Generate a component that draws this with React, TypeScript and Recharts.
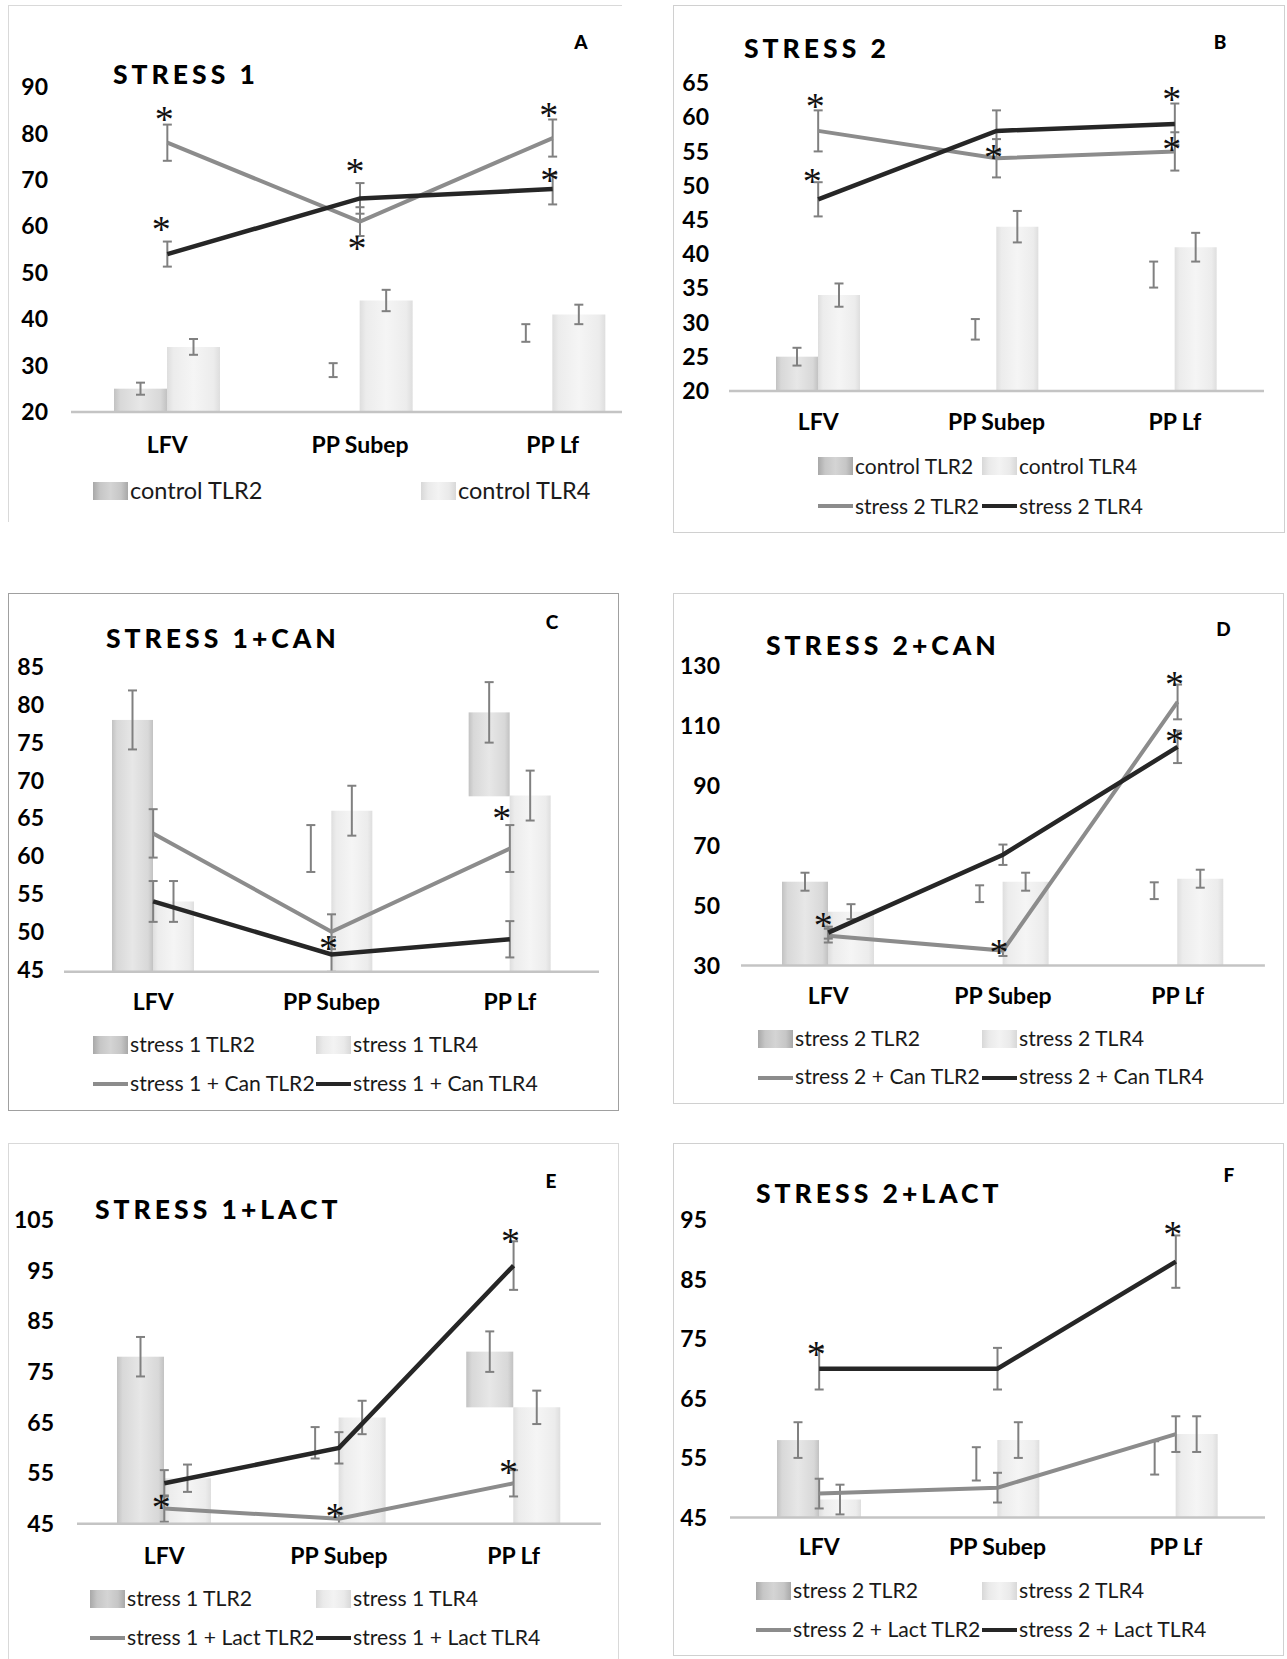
import React from 'react';
import { ComposedChart, Bar, Line, XAxis, YAxis, ErrorBar, ReferenceDot } from 'recharts';

const categories = ['LFV', 'PP Subep', 'PP Lf'];

// group means and error (+/-)
const controlTLR2 = [25, 29, 37];
const controlTLR2Err = [1.3, 1.5, 1.9];
const controlTLR4 = [34, 44, 41];
const controlTLR4Err = [1.7, 2.3, 2.1];

const stress1TLR2 = [78, 61, 79];
const stress1TLR2Err = [3.9, 3.1, 4.0];
const stress1TLR4 = [54, 66, 68];
const stress1TLR4Err = [2.7, 3.3, 3.3];

const stress2TLR2 = [58, 54, 55];
const stress2TLR2Err = [3.0, 2.8, 2.8];
const stress2TLR4 = [48, 58, 59];
const stress2TLR4Err = [2.5, 3.0, 3.0];

const stress1CanTLR2 = [63, 50, 61];
const stress1CanTLR2Err = [3.2, 2.3, 3.1];
const stress1CanTLR4 = [54, 47, 49];
const stress1CanTLR4Err = [2.7, 2.3, 2.4];

const stress2CanTLR2 = [40, 35, 118];
const stress2CanTLR2Err = [2.3, 1.8, 5.8];
const stress2CanTLR4 = [41, 67, 103];
const stress2CanTLR4Err = [2.0, 3.4, 5.4];

const stress1LactTLR2 = [48, 46, 53];
const stress1LactTLR2Err = [2.6, 1.0, 2.6];
const stress1LactTLR4 = [53, 60, 96];
const stress1LactTLR4Err = [2.6, 3.1, 4.8];

const stress2LactTLR2 = [49, 50, 59];
const stress2LactTLR2Err = [2.5, 2.5, 3.0];
const stress2LactTLR4 = [70, 70, 88];
const stress2LactTLR4Err = [3.5, 3.5, 4.4];

const ticksA = [20, 30, 40, 50, 60, 70, 80, 90];
const ticksB = [20, 25, 30, 35, 40, 45, 50, 55, 60, 65];
const ticksC = [45, 50, 55, 60, 65, 70, 75, 80, 85];
const ticksD = [30, 50, 70, 90, 110, 130];
const ticksE = [45, 55, 65, 75, 85, 95, 105];
const ticksF = [45, 55, 65, 75, 85, 95];

type Star = { cat: string; y: number; dx?: number };

// significance asterisks
const starsA: Star[] = [
  { cat: 'LFV', y: 84.5 }, { cat: 'LFV', y: 60.8, dx: -6 },
  { cat: 'PP Subep', y: 73.2, dx: -5 }, { cat: 'PP Subep', y: 56.6 },
  { cat: 'PP Lf', y: 85.3, dx: -4 }, { cat: 'PP Lf', y: 71.2 },
];
const starsB: Star[] = [
  { cat: 'LFV', y: 62.5 }, { cat: 'LFV', y: 51.6, dx: -6 },
  { cat: 'PP Subep', y: 55.0 },
  { cat: 'PP Lf', y: 63.5 }, { cat: 'PP Lf', y: 56.3 },
];
const starsC: Star[] = [{ cat: 'PP Subep', y: 48.7 }, { cat: 'PP Lf', y: 65.8, dx: -8 }];
const starsD: Star[] = [
  { cat: 'LFV', y: 45.5, dx: -5 }, { cat: 'PP Subep', y: 36.4, dx: -4 },
  { cat: 'PP Lf', y: 126 }, { cat: 'PP Lf', y: 107.1 },
];
const starsE: Star[] = [
  { cat: 'LFV', y: 49.5 }, { cat: 'PP Subep', y: 47.8, dx: -4 },
  { cat: 'PP Lf', y: 56.5, dx: -5 }, { cat: 'PP Lf', y: 102 },
];
const starsF: Star[] = [{ cat: 'LFV', y: 73.4 }, { cat: 'PP Lf', y: 93.6 }];

// how the first bar series shows up in each panel (some are blank in the source)
type Look = 'full' | 'none' | 'part';

interface PanelCfg {
  title: string;
  letter: string;
  bar2: number[]; bar2Err: number[];
  bar4: number[]; bar4Err: number[];
  line2: number[]; line2Err: number[];
  line4: number[]; line4Err: number[];
  names: string[];
  lineLegend: boolean;
  domain: [number, number];
  ticks: number[];
  stars: Star[];
  bar2Look: Look[];
  box: { x: number; y: number; w: number; h: number; border: string; sides: string };
  plot: { left: number; right: number; top: number; bottom: number };
  tickGap: number;
  xLabelY: number;
  barSize: number;
  titleAt: [number, number];
  letterAt: [number, number];
  legend: { x1: number; x2: number; y1: number; y2: number; fs: number };
}

const FONT = 'Lato, "Open Sans", sans-serif';
const GREY_LINE = '#8c8c8c';
const DARK_LINE = '#262626';
const ERR = '#808080';
const TICK_FS = 23;
const TITLE_FS = 26.5;

const panels: PanelCfg[] = [
  {
    title: 'STRESS 1', letter: 'A',
    bar2: controlTLR2, bar2Err: controlTLR2Err, bar4: controlTLR4, bar4Err: controlTLR4Err,
    line2: stress1TLR2, line2Err: stress1TLR2Err, line4: stress1TLR4, line4Err: stress1TLR4Err,
    names: ['control TLR2', 'control TLR4', 'stress 1 TLR2', 'stress 1 TLR4'],
    lineLegend: false,
    domain: [20, 90], ticks: ticksA, stars: starsA,
    bar2Look: ['full', 'none', 'none'],
    box: { x: 8, y: 5, w: 614, h: 517, border: '#d9d9d9', sides: 'tl' },
    plot: { left: 71, right: 649, top: 86.8, bottom: 411.7 },
    tickGap: 23, xLabelY: 444.5, barSize: 53,
    titleAt: [113, 75], letterAt: [581, 42],
    legend: { x1: 93, x2: 421, y1: 491, y2: 0, fs: 23.5 },
  },
  {
    title: 'STRESS 2', letter: 'B',
    bar2: controlTLR2, bar2Err: controlTLR2Err, bar4: controlTLR4, bar4Err: controlTLR4Err,
    line2: stress2TLR2, line2Err: stress2TLR2Err, line4: stress2TLR4, line4Err: stress2TLR4Err,
    names: ['control TLR2', 'control TLR4', 'stress 2 TLR2', 'stress 2 TLR4'],
    lineLegend: true,
    domain: [20, 65], ticks: ticksB, stars: starsB,
    bar2Look: ['full', 'none', 'none'],
    box: { x: 673, y: 5, w: 612, h: 528, border: '#d0d0d0', sides: 'tlrb' },
    plot: { left: 729, right: 1264, top: 82.6, bottom: 390.5 },
    tickGap: 20, xLabelY: 421.2, barSize: 42,
    titleAt: [744, 48.7], letterAt: [1220, 42],
    legend: { x1: 818, x2: 982, y1: 465.7, y2: 506, fs: 21 },
  },
  {
    title: 'STRESS 1+CAN', letter: 'C',
    bar2: stress1TLR2, bar2Err: stress1TLR2Err, bar4: stress1TLR4, bar4Err: stress1TLR4Err,
    line2: stress1CanTLR2, line2Err: stress1CanTLR2Err, line4: stress1CanTLR4, line4Err: stress1CanTLR4Err,
    names: ['stress 1 TLR2', 'stress 1 TLR4', 'stress 1 + Can TLR2', 'stress 1 + Can TLR4'],
    lineLegend: true,
    domain: [45, 85], ticks: ticksC, stars: starsC,
    bar2Look: ['full', 'none', 'part'],
    box: { x: 8, y: 593, w: 611, h: 518, border: '#a0a0a0', sides: 'tlrb' },
    plot: { left: 64.3, right: 599.3, top: 666.8, bottom: 971.6 },
    tickGap: 20, xLabelY: 1001.3, barSize: 41,
    titleAt: [106, 639], letterAt: [552, 622],
    legend: { x1: 93, x2: 316, y1: 1045, y2: 1084, fs: 21.2 },
  },
  {
    title: 'STRESS 2+CAN', letter: 'D',
    bar2: stress2TLR2, bar2Err: stress2TLR2Err, bar4: stress2TLR4, bar4Err: stress2TLR4Err,
    line2: stress2CanTLR2, line2Err: stress2CanTLR2Err, line4: stress2CanTLR4, line4Err: stress2CanTLR4Err,
    names: ['stress 2 TLR2', 'stress 2 TLR4', 'stress 2 + Can TLR2', 'stress 2 + Can TLR4'],
    lineLegend: true,
    domain: [30, 130], ticks: ticksD, stars: starsD,
    bar2Look: ['full', 'none', 'none'],
    box: { x: 673, y: 593, w: 611, h: 511, border: '#d0d0d0', sides: 'tlrb' },
    plot: { left: 741.4, right: 1265.3, top: 665.7, bottom: 965.3 },
    tickGap: 21, xLabelY: 995, barSize: 46,
    titleAt: [766, 645.6], letterAt: [1223.5, 628.7],
    legend: { x1: 758, x2: 982, y1: 1039, y2: 1077.5, fs: 21.2 },
  },
  {
    title: 'STRESS 1+LACT', letter: 'E',
    bar2: stress1TLR2, bar2Err: stress1TLR2Err, bar4: stress1TLR4, bar4Err: stress1TLR4Err,
    line2: stress1LactTLR2, line2Err: stress1LactTLR2Err, line4: stress1LactTLR4, line4Err: stress1LactTLR4Err,
    names: ['stress 1 TLR2', 'stress 1 TLR4', 'stress 1 + Lact TLR2', 'stress 1 + Lact TLR4'],
    lineLegend: true,
    domain: [45, 105], ticks: ticksE, stars: starsE,
    bar2Look: ['full', 'none', 'part'],
    box: { x: 8, y: 1143, w: 611, h: 516, border: '#d9d9d9', sides: 'tlr' },
    plot: { left: 76.7, right: 600.6, top: 1220.3, bottom: 1524.1 },
    tickGap: 23, xLabelY: 1555.8, barSize: 47,
    titleAt: [95, 1209.8], letterAt: [551, 1181],
    legend: { x1: 90, x2: 316, y1: 1599, y2: 1638, fs: 21.2 },
  },
  {
    title: 'STRESS 2+LACT', letter: 'F',
    bar2: stress2TLR2, bar2Err: stress2TLR2Err, bar4: stress2TLR4, bar4Err: stress2TLR4Err,
    line2: stress2LactTLR2, line2Err: stress2LactTLR2Err, line4: stress2LactTLR4, line4Err: stress2LactTLR4Err,
    names: ['stress 2 TLR2', 'stress 2 TLR4', 'stress 2 + Lact TLR2', 'stress 2 + Lact TLR4'],
    lineLegend: true,
    domain: [45, 95], ticks: ticksF, stars: starsF,
    bar2Look: ['full', 'none', 'none'],
    box: { x: 673, y: 1143, w: 611, h: 513, border: '#d0d0d0', sides: 'tlrb' },
    plot: { left: 730, right: 1265, top: 1220.3, bottom: 1517.7 },
    tickGap: 23, xLabelY: 1547.4, barSize: 42,
    titleAt: [756, 1194], letterAt: [1229, 1175],
    legend: { x1: 756, x2: 982, y1: 1591, y2: 1630, fs: 21.2 },
  },
];

const TLR2_CSS = 'linear-gradient(90deg,#a8a8a8,#c6c6c6 20%,#d4d4d4 50%,#c6c6c6 80%,#a8a8a8)';
const TLR4_CSS = 'linear-gradient(90deg,#d8d8d8,#eaeaea 20%,#f3f3f3 50%,#eaeaea 80%,#d8d8d8)';

function Gradients() {
  return (
    <svg width={0} height={0} style={{ position: 'absolute' }}>
      <defs>
        <linearGradient id="tlr2Fill" x1="0" y1="0" x2="1" y2="0">
          <stop offset="0" stopColor="#c2c2c2" />
          <stop offset="0.12" stopColor="#d8d8d8" />
          <stop offset="0.5" stopColor="#e7e7e7" />
          <stop offset="0.88" stopColor="#d8d8d8" />
          <stop offset="1" stopColor="#c2c2c2" />
        </linearGradient>
        <linearGradient id="tlr4Fill" x1="0" y1="0" x2="1" y2="0">
          <stop offset="0" stopColor="#dedede" />
          <stop offset="0.12" stopColor="#ececec" />
          <stop offset="0.5" stopColor="#f5f5f5" />
          <stop offset="0.88" stopColor="#ececec" />
          <stop offset="1" stopColor="#dedede" />
        </linearGradient>
      </defs>
    </svg>
  );
}

function StarMark({ cx, cy, dx }: { cx: number; cy: number; dx?: number }) {
  const fs = 38;
  return (
    <text
      x={cx + (dx ?? -3)}
      y={cy + fs * 0.5}
      textAnchor="middle"
      fontSize={fs}
      fontFamily='"Liberation Serif", serif'
      fill="#111"
    >
      *
    </text>
  );
}

function LegendItem({ x, y, kind, label, fs }: { x: number; y: number; kind: string; label: string; fs: number }) {
  const swatch =
    kind === 'bar2' || kind === 'bar4' ? (
      <div
        style={{
          position: 'absolute', left: 0, top: -9, width: 35, height: 18,
          background: kind === 'bar2' ? TLR2_CSS : TLR4_CSS,
        }}
      />
    ) : (
      <div
        style={{
          position: 'absolute', left: 0, top: -2, width: 35, height: 4,
          background: kind === 'line2' ? GREY_LINE : DARK_LINE,
        }}
      />
    );
  return (
    <div style={{ position: 'absolute', left: x, top: y }}>
      {swatch}
      <div
        style={{
          position: 'absolute', left: 37, top: -fs * 0.53, fontSize: fs,
          lineHeight: `${fs}px`, fontFamily: FONT, color: '#1a1a1a', whiteSpace: 'nowrap',
        }}
      >
        {label}
      </div>
    </div>
  );
}

function Panel({ cfg }: { cfg: PanelCfg }) {
  const { box, plot, legend } = cfg;
  const data = categories.map((cat, i) => ({
    cat,
    b2: cfg.bar2[i], b2e: cfg.bar2Err[i],
    b4: cfg.bar4[i], b4e: cfg.bar4Err[i],
    l2: cfg.line2[i], l2e: cfg.line2Err[i],
    l4: cfg.line4[i], l4e: cfg.line4Err[i],
  }));
  const yw = 80;
  const mTop = 30;
  const xh = 60;
  const chartLeft = plot.left - yw;
  const chartTop = plot.top - mTop;
  const width = plot.right + 10 - chartLeft;
  const height = plot.bottom + xh - chartTop;
  const b = `1px solid ${box.border}`;
  const tickStyle = { fontSize: TICK_FS, fontWeight: 700, fill: '#000', fontFamily: FONT };

  // first bar series: blank, full, or only the part that sits above the neighbouring bar
  const bar2Shape = (p: any) => {
    const i = categories.indexOf(p.payload.cat);
    const k = cfg.bar2Look[i];
    if (k === 'none' || !p.height) return <g />;
    let h = p.height;
    if (k === 'part') {
      const v2 = cfg.bar2[i];
      const v4 = cfg.bar4[i];
      h = (p.height * (v2 - v4)) / (v2 - cfg.domain[0]);
    }
    return <rect x={p.x} y={p.y} width={p.width} height={h} fill="url(#tlr2Fill)" />;
  };

  return (
    <div
      style={{
        position: 'absolute', left: box.x, top: box.y, width: box.w, height: box.h,
        boxSizing: 'border-box', overflow: 'hidden',
        borderTop: box.sides.includes('t') ? b : 'none',
        borderLeft: box.sides.includes('l') ? b : 'none',
        borderRight: box.sides.includes('r') ? b : 'none',
        borderBottom: box.sides.includes('b') ? b : 'none',
      }}
    >
      <div style={{ position: 'absolute', left: chartLeft - box.x - 1, top: chartTop - box.y - 1 }}>
        <ComposedChart
          width={width}
          height={height}
          data={data}
          margin={{ top: mTop, right: 10, left: 0, bottom: 0 }}
          barGap={0}
        >
          <XAxis
            dataKey="cat"
            height={xh}
            interval={0}
            tickLine={false}
            tickSize={0}
            tickMargin={cfg.xLabelY - plot.bottom - 8}
            axisLine={{ stroke: '#c4c4c4', strokeWidth: 2.5 }}
            tick={tickStyle}
          />
          <YAxis
            type="number"
            domain={cfg.domain}
            ticks={cfg.ticks}
            interval={0}
            width={yw}
            axisLine={false}
            tickLine={false}
            tickSize={0}
            tickMargin={cfg.tickGap}
            tick={tickStyle}
          />
          <Bar dataKey="b2" name={cfg.names[0]} barSize={cfg.barSize} shape={bar2Shape} isAnimationActive={false}>
            <ErrorBar dataKey="b2e" direction="y" width={4.5} stroke={ERR} strokeWidth={2} />
          </Bar>
          <Bar dataKey="b4" name={cfg.names[1]} barSize={cfg.barSize} fill="url(#tlr4Fill)" isAnimationActive={false}>
            <ErrorBar dataKey="b4e" direction="y" width={4.5} stroke={ERR} strokeWidth={2} />
          </Bar>
          <Line
            dataKey="l2"
            name={cfg.names[2]}
            type="linear"
            stroke={GREY_LINE}
            strokeWidth={4}
            dot={false}
            activeDot={false}
            isAnimationActive={false}
          >
            <ErrorBar dataKey="l2e" direction="y" width={4.5} stroke={ERR} strokeWidth={2} />
          </Line>
          <Line
            dataKey="l4"
            name={cfg.names[3]}
            type="linear"
            stroke={DARK_LINE}
            strokeWidth={4.5}
            dot={false}
            activeDot={false}
            isAnimationActive={false}
          >
            <ErrorBar dataKey="l4e" direction="y" width={4.5} stroke={ERR} strokeWidth={2} />
          </Line>
          {cfg.stars.map((s, i) => (
            <ReferenceDot
              key={i}
              x={s.cat}
              y={s.y}
              r={0}
              ifOverflow="visible"
              shape={(p: any) => <StarMark cx={p.cx} cy={p.cy} dx={s.dx} />}
            />
          ))}
        </ComposedChart>
      </div>

      <div
        style={{
          position: 'absolute', left: cfg.titleAt[0] - box.x - 1,
          top: cfg.titleAt[1] - box.y - 1 - TITLE_FS * 0.53,
          fontSize: TITLE_FS, lineHeight: `${TITLE_FS}px`, fontWeight: 900, letterSpacing: 4,
          fontFamily: FONT, color: '#000', whiteSpace: 'nowrap',
        }}
      >
        {cfg.title}
      </div>
      <div
        style={{
          position: 'absolute', left: cfg.letterAt[0] - box.x - 1, top: cfg.letterAt[1] - box.y - 1 - 19 * 0.53,
          transform: 'translateX(-50%)',
          fontSize: 19, lineHeight: '19px', fontWeight: 900, fontFamily: FONT, color: '#000',
        }}
      >
        {cfg.letter}
      </div>

      <LegendItem x={legend.x1 - box.x - 1} y={legend.y1 - box.y - 1} kind="bar2" label={cfg.names[0]} fs={legend.fs} />
      <LegendItem x={legend.x2 - box.x - 1} y={legend.y1 - box.y - 1} kind="bar4" label={cfg.names[1]} fs={legend.fs} />
      {cfg.lineLegend && (
        <>
          <LegendItem x={legend.x1 - box.x - 1} y={legend.y2 - box.y - 1} kind="line2" label={cfg.names[2]} fs={legend.fs} />
          <LegendItem x={legend.x2 - box.x - 1} y={legend.y2 - box.y - 1} kind="line4" label={cfg.names[3]} fs={legend.fs} />
        </>
      )}
    </div>
  );
}

export default function App() {
  return (
    <div
      style={{
        position: 'absolute', left: 0, top: 0, width: 1287, height: 1659,
        background: '#fff', overflow: 'hidden',
      }}
    >
      <Gradients />
      {panels.map((p) => (
        <Panel key={p.letter} cfg={p} />
      ))}
    </div>
  );
}
